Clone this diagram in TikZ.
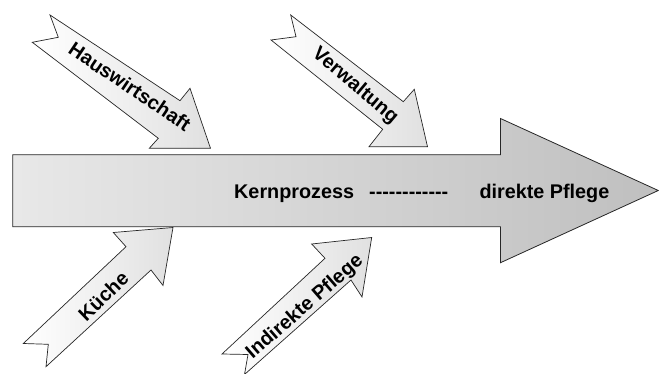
\documentclass[tikz,border=0pt]{standalone}
\usepackage{fontspec}
\setmainfont{Liberation Sans}
\begin{document}
\begin{tikzpicture}[x=1pt,y=-1pt,
  mainarrow/.style={draw=black!85,line width=0.8pt,left color=black!9,right color=black!25},
  subarrow/.style={draw=black!85,line width=0.7pt,left color=white,right color=black!12},
  lbl/.style={font=\bfseries\fontsize{19.8}{20}\selectfont,inner sep=0pt,text=black}]
\useasboundingbox (0,0) rectangle (659,374);
% main arrow
\path[mainarrow] (12.7,154.7) -- (500.5,154.7) -- (500.5,118.5) -- (658.3,190.5)
  -- (500.5,262.7) -- (500.5,226.7) -- (12.7,226.7) -- cycle;
% Hauswirtschaft
\path[subarrow] (50,15) -- (180,100.7) -- (190,88.3) -- (210.5,148.3) -- (149.3,148.3)
  -- (158.3,138.3) -- (32.3,42.3) -- (58.3,37.3) -- cycle;
% Verwaltung
\path[subarrow] (290.7,15) -- (403.3,101.7) -- (414.3,89.3) -- (427.5,146.7) -- (369,146.7)
  -- (382.7,129.3) -- (271,40) -- (296,36.7) -- cycle;
% Kueche
\path[subarrow] (173,227.5) -- (163,285.5) -- (151,270) -- (46,366.7) -- (48.3,344.3)
  -- (23.3,343.5) -- (126,246.7) -- (113.3,232.5) -- cycle;
% Indirekte Pflege
\path[subarrow] (371.7,237.5) -- (362,297) -- (351,280) -- (244.5,374.5) -- (248,354.5)
  -- (222,354) -- (325,258.3) -- (311.7,244) -- cycle;
% labels
\node[lbl,anchor=base west] (kern) at (234,198.3) {Kernprozess};
\node[lbl,anchor=base west] (dash) at (369,198.3) {-{}-{}-{}-{}-{}-{}-{}-{}-{}-{}-{}-};
\node[lbl,anchor=base west] (dir) at (479.3,198.3) {direkte Pflege};
\node[lbl,rotate=-34] (haus) at (130,86.7) {Hauswirtschaft};
\node[lbl,rotate=-40] (verw) at (355,86) {Verwaltung};
\node[lbl,rotate=44] (kue) at (103.3,296) {Küche};
\node[lbl,rotate=41] (ind) at (305,307.3) {Indirekte Pflege};
\end{tikzpicture}
\end{document}
